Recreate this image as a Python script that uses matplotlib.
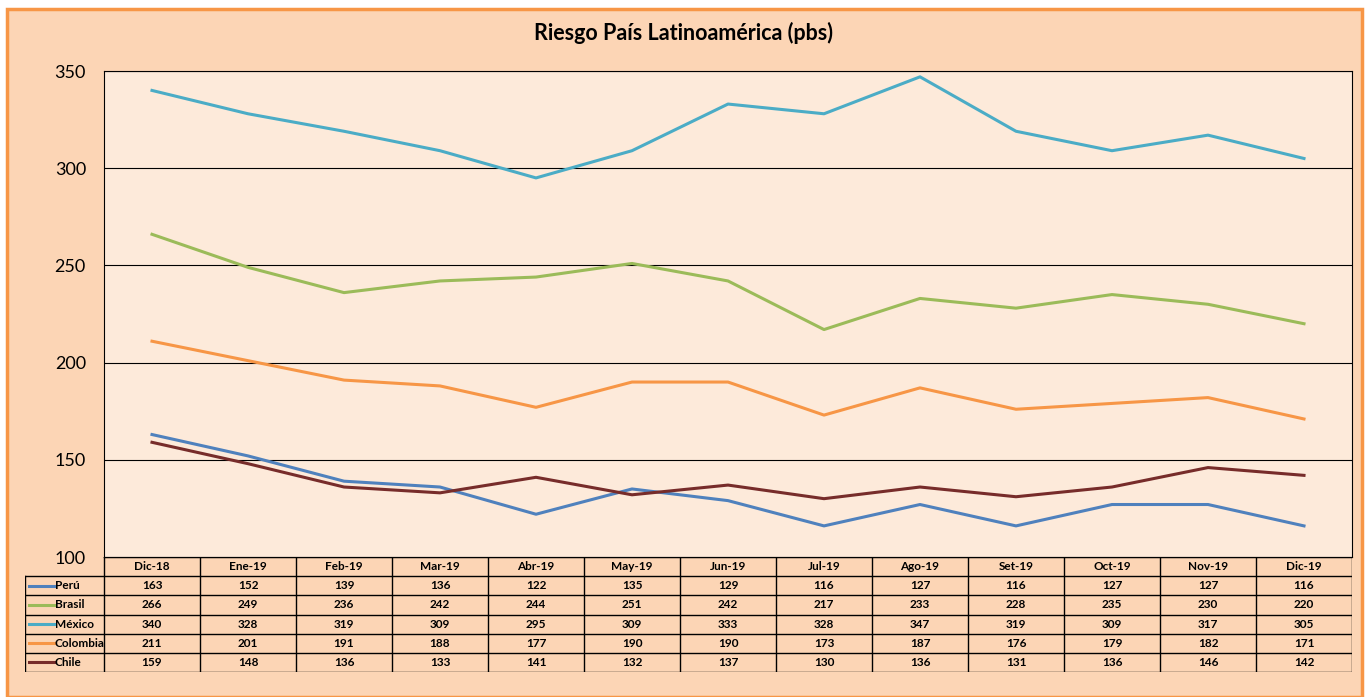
import numpy as np
import matplotlib.pyplot as plt
from matplotlib.patches import Rectangle

plt.rcParams['font.family'] = ['Lato', 'DejaVu Sans']

# data
months = ['Dic-18', 'Ene-19', 'Feb-19', 'Mar-19', 'Abr-19', 'May-19', 'Jun-19',
          'Jul-19', 'Ago-19', 'Set-19', 'Oct-19', 'Nov-19', 'Dic-19']
peru = [163, 152, 139, 136, 122, 135, 129, 116, 127, 116, 127, 127, 116]
brasil = [266, 249, 236, 242, 244, 251, 242, 217, 233, 228, 235, 230, 220]
mexico = [340, 328, 319, 309, 295, 309, 333, 328, 347, 319, 309, 317, 305]
colombia = [211, 201, 191, 188, 177, 190, 190, 173, 187, 176, 179, 182, 171]
chile = [159, 148, 136, 133, 141, 132, 137, 130, 136, 131, 136, 146, 142]

names = ['Perú', 'Brasil', 'México', 'Colombia', 'Chile']
series = [peru, brasil, mexico, colombia, chile]
colors = ['#4F81BD', '#9BBB59', '#4BACC6', '#F79646', '#772C2A']

W, H = 1368, 697
fig = plt.figure(figsize=(W / 100, H / 100), dpi=100)
fig.patch.set_facecolor('white')

# outer orange frame (behind the axes)
fig.patches.append(Rectangle((7 / W, 0), 1355 / W, 1 - 9 / H, transform=fig.transFigure,
                             facecolor='#FCD5B5', edgecolor='#F79646', linewidth=2.5,
                             zorder=-10))

def px_axes(x0, y0, x1, y1):
    return fig.add_axes([x0 / W, 1 - y1 / H, (x1 - x0) / W, (y1 - y0) / H])

# main plot
ax = px_axes(104, 71, 1352, 557)
ax.set_facecolor('#FDEADA')
x = np.arange(len(months))
for vals, c in zip(series, colors):
    ax.plot(x, vals, color=c, linewidth=2.2, zorder=3)
ax.set_xlim(-0.5, len(months) - 0.5)
ax.set_ylim(100, 350)
ax.set_yticks([100, 150, 200, 250, 300, 350])
ax.yaxis.grid(True, color='#000000', linewidth=0.8)
ax.set_axisbelow(True)
ax.set_xticks([])
ax.tick_params(axis='y', length=0, labelsize=13, pad=13)
for s in ax.spines.values():
    s.set_color('black')
    s.set_linewidth(0.8)

fig.text(684 / W, 1 - 33 / H, 'Riesgo País Latinoamérica (pbs)', ha='center', va='center',
         fontsize=15.5, fontweight='bold')

# data table with legend keys
tab = px_axes(25, 557, 1352, 672)
lw_col = 79 / 96.0
tab.set_xlim(-0.5 - lw_col, len(months) - 0.5)
tab.set_ylim(len(names) + 1, 0)
tab.axis('off')
left = -0.5 - lw_col
right = len(months) - 0.5
for i in range(len(months) + 1):
    tab.plot([i - 0.5, i - 0.5], [0, len(names) + 1], color='black', linewidth=1.0)
tab.plot([left, left], [1, len(names) + 1], color='black', linewidth=1.0)
for r in range(len(names) + 2):
    xs = left if r >= 1 else -0.5
    tab.plot([xs, right], [r, r], color='black', linewidth=1.0)
for i, m in enumerate(months):
    tab.text(i, 0.5, m, ha='center', va='center', fontsize=8.5, fontweight='bold')
for r, (nm, vals, c) in enumerate(zip(names, series, colors), start=1):
    tab.plot([left + 0.04, left + 0.30], [r + 0.5, r + 0.5], color=c, linewidth=2.2)
    tab.text(left + 0.31, r + 0.5, nm, ha='left', va='center', fontsize=8.5, fontweight='bold')
    for i, v in enumerate(vals):
        tab.text(i, r + 0.5, str(v), ha='center', va='center', fontsize=8.5, fontweight='bold')

fig.savefig('out.png', dpi=100)
